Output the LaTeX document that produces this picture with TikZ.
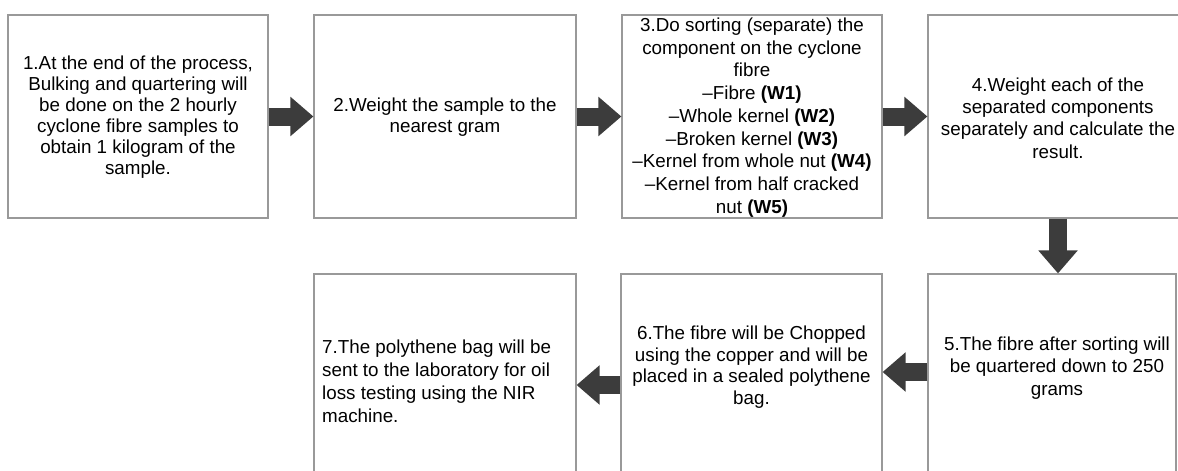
\documentclass[tikz,border=0pt]{standalone}
\usepackage{fontspec}
\setmainfont{Liberation Sans}
\usetikzlibrary{arrows.meta}
\definecolor{boxgray}{HTML}{999999}
\definecolor{arrowgray}{HTML}{3C3C3C}
\begin{document}
\begin{tikzpicture}[x=1pt,y=-1pt,
  box/.style={draw=boxgray, line width=1.2pt, inner sep=0pt},
  txt/.style={align=center, font=\fontsize{18.8}{22.3}\selectfont, inner sep=0pt},
  flow/.style={draw=arrowgray, line width=18pt, -{Triangle[length=23pt,width=38pt]}, arrowgray}
]
\useasboundingbox[fill=white] (0,0) rectangle (1178,471);
% boxes
\node[box, minimum width=260pt, minimum height=203pt] (b1) at (138,116.5) {};
\node[box, minimum width=262pt, minimum height=203pt] (b2) at (445,116.5) {};
\node[box, minimum width=260pt, minimum height=203pt] (b3) at (752,116.5) {};
\node[box, minimum width=254pt, minimum height=203pt] (b4) at (1055,116.5) {};
\node[box, minimum width=248pt, minimum height=206pt] (b5) at (1052,377) {};
\node[box, minimum width=261pt, minimum height=206pt] (b6) at (751.5,377) {};
\node[box, minimum width=262pt, minimum height=206pt] (b7) at (445,377) {};
% texts
\node[txt, font=\fontsize{18.8}{21}\selectfont] (t1) at (138,117.5) {1.At the end of the process,\\Bulking and quartering will\\be done on the 2 hourly\\cyclone fibre samples to\\obtain 1 kilogram of the\\sample.};
\node[txt, font=\fontsize{18.8}{21}\selectfont] (t2) at (445,117.5) {2.Weight the sample to the\\nearest gram};
\node[txt, font=\fontsize{18.8}{22.7}\selectfont] (t3) at (752,117.5) {3.Do sorting (separate) the\\component on the cyclone\\fibre\\–Fibre \textbf{(W1)}\\–Whole kernel \textbf{(W2)}\\–Broken kernel \textbf{(W3)}\\–Kernel from whole nut \textbf{(W4)}\\–Kernel from half cracked\\nut \textbf{(W5)}};
\node[txt] (t4) at (1058,118) {4.Weight each of the\\separated components\\separately and calculate the\\result.};
\node[txt] (t5) at (1057,368) {5.The fibre after sorting will\\be quartered down to 250\\grams};
\node[txt, font=\fontsize{18.8}{21.5}\selectfont] (t6) at (751.5,367) {6.The fibre will be Chopped\\using the copper and will be\\placed in a sealed polythene\\bag.};
\node[txt, align=left, anchor=west, font=\fontsize{18.8}{23}\selectfont] (t7) at (322,381) {7.The polythene bag will be\\sent to the laboratory for oil\\loss testing using the NIR\\machine.};
% arrows
\draw[flow] (b1.east) -- (b2.west);
\draw[flow] (b2.east) -- (b3.west);
\draw[flow] (b3.east) -- (b4.west);
\draw[flow] ([xshift=3pt]b4.south) -- ([xshift=3pt]b4.south |- b5.north);
\draw[flow] ([yshift=5pt]b5.west) -- ([yshift=5pt]b5.west -| b6.east);
\draw[flow] ([yshift=-8pt]b6.west) -- ([yshift=-8pt]b6.west -| b7.east);
\end{tikzpicture}
\end{document}
